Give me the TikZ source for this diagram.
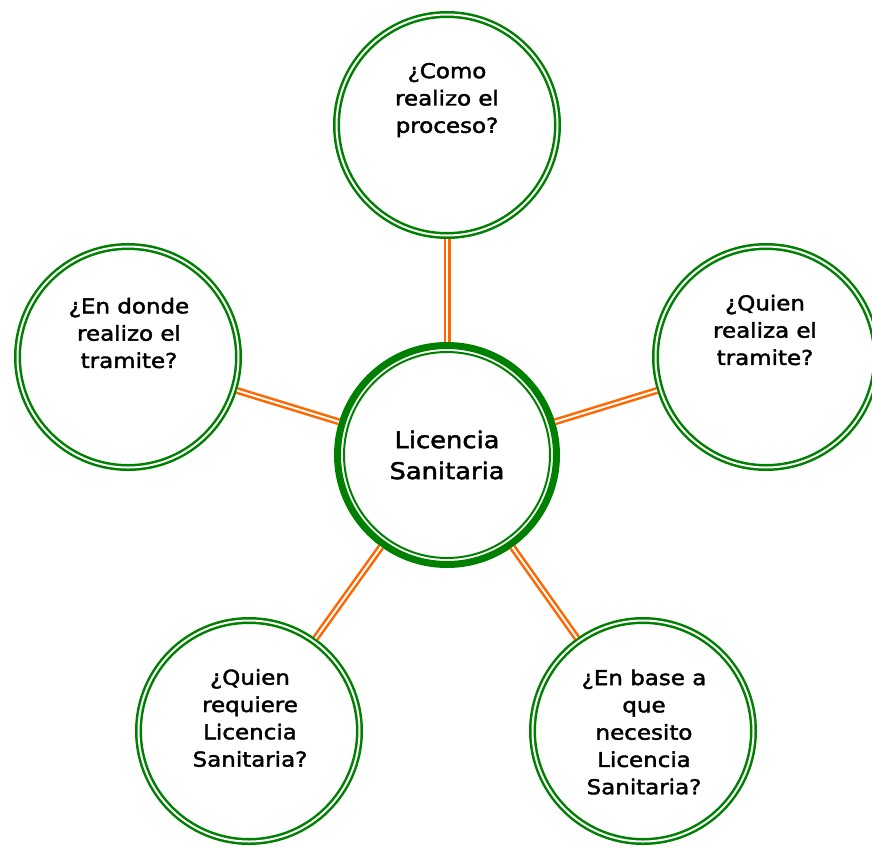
\documentclass[tikz,border=0pt]{standalone}
\usepackage{fontspec}
\setmainfont{DejaVu Sans}[FakeStretch=1.12,FakeBold=2]
\definecolor{ringgreen}{RGB}{0,128,0}
\definecolor{connorange}{RGB}{255,102,0}
\begin{document}
\begin{tikzpicture}[x=1pt,y=-1pt,
  ring/.style={circle,draw=ringgreen,line width=2.5pt,double=white,double distance=2pt,
    minimum size=221pt,inner sep=0pt,outer sep=3.5pt},
  hub/.style={circle,draw=ringgreen,line width=7pt,minimum size=219pt,inner sep=0pt,outer sep=3.5pt},
  conn/.style={draw=connorange,line width=2.5pt,double=white,double distance=2pt},
  lbl/.style={align=center,font=\fontsize{20.5}{27.3}\selectfont,text=black},
  hublbl/.style={align=center,font=\fontsize{23}{31}\selectfont,text=black}]
\useasboundingbox (0,0) rectangle (872,846);
\node[hub] (c) at (447,455) {};
\draw[ringgreen,line width=2pt] (c.center) circle (103);
\node[ring] (t) at (447,125) {};
\node[ring] (l) at (128,357) {};
\node[ring] (r) at (766,357) {};
\node[ring] (bl) at (249,731) {};
\node[ring] (br) at (643,731) {};
\draw[conn] (c) -- (t);
\draw[conn] (c) -- (l);
\draw[conn] (c) -- (r);
\draw[conn] (c) -- (bl);
\draw[conn] (c) -- (br);
\node[hublbl] (ct) at (447,455) {Licencia\\Sanitaria};
\node[lbl] (tt) at (447,100) {¿Como\\realizo el\\proceso?};
\node[lbl] (lt) at (129,333) {¿En donde\\realizo el\\tramite?};
\node[lbl] (rt) at (765,330) {¿Quien\\realiza el\\tramite?};
\node[lbl] (blt) at (250,718) {¿Quien\\requiere\\Licencia\\Sanitaria?};
\node[lbl] (brt) at (644,732) {¿En base a\\que\\necesito\\Licencia\\Sanitaria?};
\end{tikzpicture}
\end{document}
